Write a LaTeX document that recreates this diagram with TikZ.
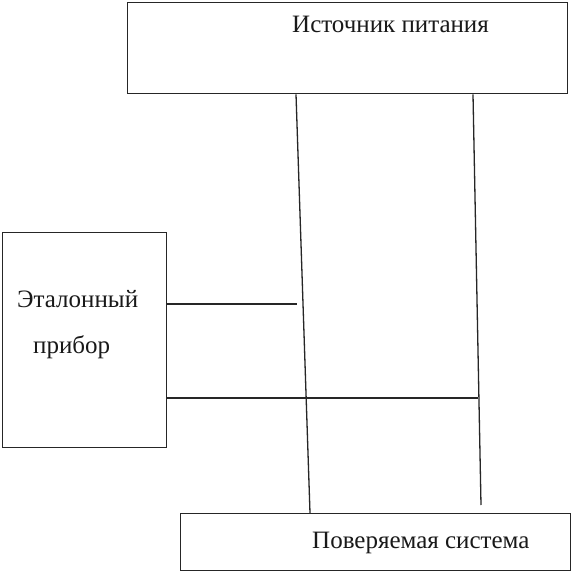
\documentclass[tikz,border=0pt]{standalone}
\usepackage{fontspec}
\setmainfont{Liberation Serif}
\begin{document}
\begin{tikzpicture}[x=1pt,y=-1pt,
  blk/.style={draw=black!85,line width=1.3pt,inner sep=0pt},
  wire/.style={draw=black!85,line width=1.3pt},
  lbl/.style={inner sep=0pt,anchor=base west,font=\fontsize{25}{29}\selectfont,text=black!90}]
\useasboundingbox (0,0) rectangle (573,572);
\fill[white] (0,0) rectangle (573,572);
% boxes
\node[blk,minimum width=440pt,minimum height=91pt,anchor=north west] (src) at (127,2) {};
\node[blk,minimum width=164pt,minimum height=215pt,anchor=north west] (ref) at (2,232) {};
\node[blk,minimum width=390pt,minimum height=57pt,anchor=north west] (sys) at (180,513) {};
% labels
\node[lbl] (srcl) at (292,33) {Источник питания};
\node[lbl] (refl1) at (17,307) {Эталонный};
\node[lbl] (refl2) at (33,353) {прибор};
\node[lbl] (sysl) at (312,548) {Поверяемая система};
% connection points
\coordinate (a1) at (src.south west -| 296,0);
\coordinate (a2) at (sys.north west -| 310,0);
\coordinate (b1) at (src.south west -| 473,0);
\coordinate (b2) at (481,505);
\coordinate (c1) at (297,304);
\coordinate (d1) at (478,398);
% wires
\draw[wire] (a1) -- (a2);
\draw[wire] (b1) -- (b2);
\draw[wire] (ref.east |- c1) -- (c1);
\draw[wire] (ref.east |- d1) -- (d1);
\end{tikzpicture}
\end{document}
